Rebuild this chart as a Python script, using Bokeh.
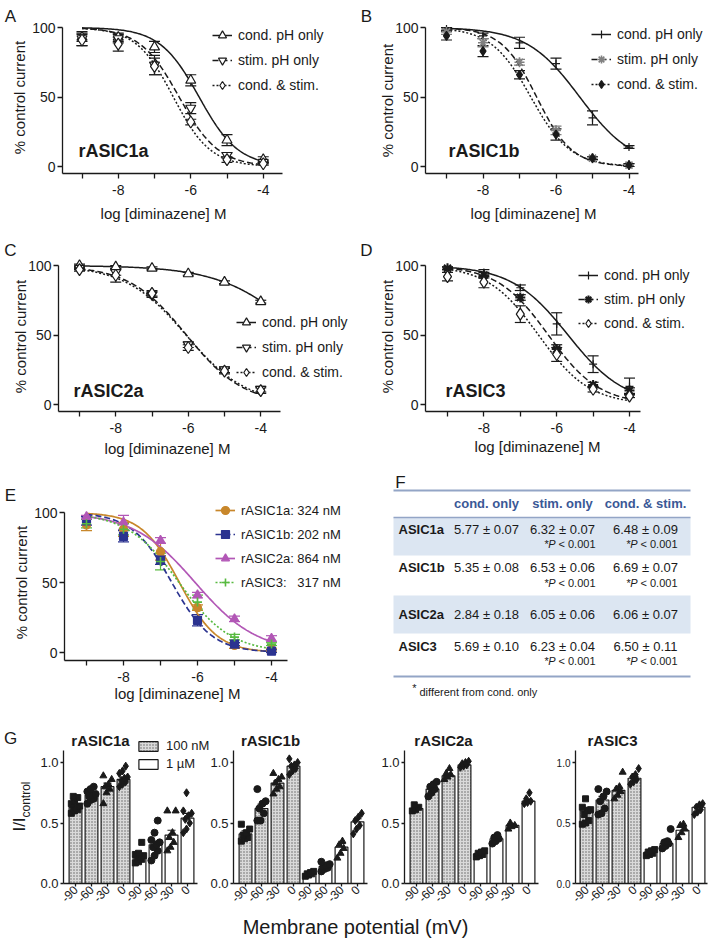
import numpy as np
from bokeh.plotting import figure
from bokeh.models import (Range1d, FixedTicker, Whisker, TeeHead, ColumnDataSource,
                          Label, Legend, LegendItem, NumeralTickFormatter)
from bokeh.layouts import row, column
from bokeh.embed import file_html
from bokeh.resources import INLINE
from bokeh.core.properties import value

FONT = "Liberation Sans"
INK = "#1a1a1a"

# ======================= DATA =======================
log_conc = [-9, -8, -7, -6, -5, -4]
x_major_ticks = [-8, -6, -4]
x_minor_ticks = [-9, -7, -5]
x_tick_labels = ["-8", "-6", "-4"]
y_pct_ticks = [0, 50, 100]
series_names = ["cond. pH only", "stim. pH only", "cond. & stim."]

# A  rASIC1a
a_cond = [93, 93, 86, 62, 19, 5]
a_cond_sem = [3, 3, 4, 4, 4, 2]
a_stim = [92, 92, 73, 42, 8, 3]
a_stim_sem = [5, 3, 7, 4, 2, 1]
a_both = [91, 88, 72, 32, 5, 2]
a_both_sem = [4, 5, 6, 2, 2, 1]
# B  rASIC1b
b_cond = [99, 94, 89, 74, 35, 14]
b_cond_sem = [1, 2, 4, 4, 5, 1]
b_stim = [97, 89, 75, 26, 6, 1]
b_stim_sem = [2, 3, 2, 3, 1, 1]
b_both = [94, 83, 66, 23, 6, 1]
b_both_sem = [3, 4, 3, 4, 1, 1]
# C  rASIC2a
c_cond = [100, 99, 98, 94, 88, 74]
c_cond_sem = [1, 1, 1, 1, 1, 1]
c_stim = [98, 95, 79, 43, 25, 11]
c_stim_sem = [1, 2, 2, 2, 2, 2]
c_both = [97, 93, 80, 41, 24, 10]
c_both_sem = [1, 5, 2, 2, 2, 2]
# D  rASIC3
d_cond = [98, 95, 84, 58, 29, 13]
d_cond_sem = [1, 2, 2, 8, 6, 6]
d_stim = [98, 93, 77, 40, 14, 10]
d_stim_sem = [1, 2, 2, 3, 2, 2]
d_both = [92, 88, 65, 36, 11, 6]
d_both_sem = [3, 4, 6, 5, 2, 1]

# fitted curves: pIC50 (table F) and Hill slope, order cond / stim / both
pic50_1a = [5.77, 6.32, 6.48]
hill_1a = [0.8, 0.8, 0.85]
pic50_1b = [5.35, 6.53, 6.69]
hill_1b = [0.6, 0.9, 0.8]
pic50_2a = [2.84, 6.05, 6.06]
hill_2a = [0.4, 0.55, 0.52]
pic50_3 = [5.69, 6.23, 6.50]
hill_3 = [0.56, 0.62, 0.62]

# E  (cond. & stim.)
e_names = ["rASIC1a: 324 nM", "rASIC1b: 202 nM", "rASIC2a: 864 nM", "rASIC3:\u00a0\u00a0 317 nM"]
e_ic50_nM = [324, 202, 864, 317]
e_hill = [0.85, 0.8, 0.52, 0.62]

# F table
tbl_headers = ["cond. only", "stim. only", "cond. & stim."]
tbl_rows = ["ASIC1a", "ASIC1b", "ASIC2a", "ASIC3"]
tbl_cond = ["5.77 \u00b1 0.07", "5.35 \u00b1 0.08", "2.84 \u00b1 0.18", "5.69 \u00b1 0.10"]
tbl_stim = ["6.32 \u00b1 0.07", "6.53 \u00b1 0.06", "6.05 \u00b1 0.06", "6.23 \u00b1 0.04"]
tbl_both = ["6.48 \u00b1 0.09", "6.69 \u00b1 0.07", "6.06 \u00b1 0.07", "6.50 \u00b1 0.11"]
tbl_sig_stim = [True, True, False, True]
tbl_sig_both = [True, True, False, True]
tbl_sig_text = "< 0.001"
tbl_footnote = "different from cond. only"

# G bars
g_volt_labels = ["-90", "-60", "-30", "0", "-90", "-60", "-30", "0"]
g_conc = ["100 nM"] * 4 + ["1 \u00b5M"] * 4
g_titles = ["rASIC1a", "rASIC1b", "rASIC2a", "rASIC3"]

g1a_mean = [0.63, 0.73, 0.80, 0.86, 0.23, 0.32, 0.40, 0.54]
g1a_sem = [0.015, 0.015, 0.03, 0.02, 0.02, 0.03, 0.04, 0.04]
g1a_pts = [[0.58, 0.60, 0.61, 0.62, 0.63, 0.64, 0.66, 0.68, 0.71, 0.72],
           [0.66, 0.69, 0.70, 0.72, 0.73, 0.74, 0.76, 0.78, 0.80],
           [0.66, 0.75, 0.78, 0.80, 0.82, 0.86, 0.89],
           [0.80, 0.82, 0.84, 0.85, 0.87, 0.88, 0.91, 0.93, 0.97],
           [0.17, 0.18, 0.20, 0.21, 0.22, 0.23, 0.24, 0.25, 0.34],
           [0.19, 0.23, 0.27, 0.30, 0.32, 0.34, 0.36, 0.42, 0.52],
           [0.27, 0.30, 0.34, 0.38, 0.42, 0.60, 0.60],
           [0.42, 0.45, 0.50, 0.53, 0.56, 0.58, 0.60, 0.75]]
g1b_mean = [0.41, 0.62, 0.83, 0.97, 0.08, 0.14, 0.30, 0.51]
g1b_sem = [0.025, 0.035, 0.02, 0.015, 0.005, 0.01, 0.03, 0.025]
g1b_pts = [[0.35, 0.37, 0.38, 0.40, 0.42, 0.45, 0.49],
           [0.52, 0.52, 0.58, 0.62, 0.66, 0.68, 0.78],
           [0.74, 0.78, 0.80, 0.83, 0.86, 0.88, 0.91],
           [0.90, 0.93, 0.95, 0.97, 0.98, 1.00, 1.03],
           [0.06, 0.07, 0.08, 0.08, 0.09, 0.10],
           [0.10, 0.12, 0.13, 0.14, 0.15, 0.16, 0.18],
           [0.21, 0.25, 0.29, 0.32, 0.35],
           [0.41, 0.45, 0.48, 0.52, 0.55, 0.58]]
g2a_mean = [0.62, 0.78, 0.89, 0.98, 0.25, 0.37, 0.48, 0.68]
g2a_sem = [0.01, 0.02, 0.015, 0.005, 0.01, 0.015, 0.01, 0.015]
g2a_pts = [[0.60, 0.61, 0.63, 0.65],
           [0.72, 0.75, 0.78, 0.80, 0.82, 0.84],
           [0.86, 0.88, 0.90, 0.91, 0.95],
           [0.96, 0.97, 0.98, 0.99, 1.00, 1.01],
           [0.22, 0.23, 0.24, 0.25, 0.26, 0.27],
           [0.33, 0.35, 0.37, 0.38, 0.40],
           [0.45, 0.47, 0.48, 0.50],
           [0.66, 0.67, 0.68, 0.70, 0.75]]
g3_mean = [0.60, 0.69, 0.77, 0.87, 0.26, 0.33, 0.44, 0.63]
g3_sem = [0.03, 0.03, 0.025, 0.015, 0.01, 0.02, 0.025, 0.015]
g3_pts = [[0.49, 0.50, 0.52, 0.57, 0.60, 0.61, 0.63, 0.70],
          [0.57, 0.58, 0.62, 0.68, 0.72, 0.76, 0.78],
          [0.70, 0.73, 0.76, 0.78, 0.80, 0.92],
          [0.82, 0.84, 0.86, 0.88, 0.90, 0.95],
          [0.23, 0.24, 0.25, 0.26, 0.27, 0.28],
          [0.29, 0.31, 0.33, 0.34, 0.35, 0.45],
          [0.38, 0.42, 0.45, 0.48, 0.49],
          [0.57, 0.59, 0.61, 0.63, 0.65, 0.66]]
g_y_ticks = [0.0, 0.5, 1.0]
g_y_top = 1.1

# ======================= LAYOUT HELPERS =======================
SPLIT = 355  # page x where the right-hand column starts


class Geo:
    """Page-pixel geometry of one figure (frame = whole figure); page px -> data units."""
    def __init__(self, fig, xref, yref):
        self.fl, self.ft, self.fw, self.fh = fig
        self.x0px, self.x0v, self.xs = xref
        self.y0px, self.y0v, self.ys = yref

    def dx(self, px):
        return self.x0v + (px - self.x0px) / self.xs

    def dy(self, py):
        return self.y0v + (self.y0px - py) / self.ys

    def figure(self):
        p = figure(width=self.fw, height=self.fh,
                   x_range=Range1d(self.dx(self.fl), self.dx(self.fl + self.fw)),
                   y_range=Range1d(self.dy(self.ft + self.fh), self.dy(self.ft)),
                   min_border=0, min_border_left=0, min_border_right=0,
                   min_border_top=0, min_border_bottom=0,
                   output_backend="svg", toolbar_location=None, title=None)
        p.grid.visible = False
        p.outline_line_color = None
        p.background_fill_color = "white"
        p.border_fill_color = "white"
        return p


def add_label(p, g, px, py, text, size, bold=False, italic=False, align="left",
              angle=0.0, color=INK):
    style = "bold" if bold else ("italic" if italic else "normal")
    p.add_layout(Label(x=g.dx(px), y=g.dy(py), text=text, text_font=FONT,
                       text_font_size=f"{size}px", text_font_style=style,
                       text_align=align, text_baseline="middle", angle=angle,
                       text_color=color))


def style_axis(ax, size):
    ax.axis_line_color = INK
    ax.axis_line_width = 1.3
    ax.major_tick_line_color = INK
    ax.major_tick_line_width = 1.3
    ax.minor_tick_line_color = INK
    ax.minor_tick_line_width = 1.3
    ax.major_tick_in = 0
    ax.minor_tick_in = 0
    ax.major_label_text_font = FONT
    ax.major_label_text_font_size = f"{size}px"
    ax.major_label_text_color = INK


def add_legend(p, g, items, left_px, top_px, glyph_w, glyph_h, label_h, spacing, font_px, standoff):
    n = len(items)
    height = n * max(glyph_h, label_h) + (n - 1) * spacing
    leg = Legend(items=items, location=(left_px - g.fl, g.ft + g.fh - (top_px + height)),
                 glyph_width=glyph_w, glyph_height=glyph_h, label_height=label_h,
                 spacing=spacing, padding=0, margin=0, label_standoff=standoff,
                 border_line_color=None, background_fill_alpha=0,
                 label_text_font=FONT, label_text_font_size=f"{font_px}px",
                 label_text_color=INK)
    p.add_layout(leg)


def hill(xs, log_ic50, n):
    return 100.0 / (1.0 + 10.0 ** ((xs - log_ic50) * n))


def curve_panel(g, axes_px, series, fits, styles, names, leg, letter, title, texts):
    yax_px, xax_px, xend_px = axes_px
    p = g.figure()
    style_axis(p.xaxis[0], 14)
    style_axis(p.yaxis[0], 14)
    p.xaxis.fixed_location = g.dy(xax_px)
    p.yaxis.fixed_location = g.dx(yax_px)
    p.xaxis.ticker = FixedTicker(ticks=x_major_ticks, minor_ticks=x_minor_ticks)
    p.xaxis.major_label_overrides = dict(zip(x_major_ticks, x_tick_labels))
    p.xaxis.major_tick_out = 5
    p.xaxis.minor_tick_out = 5
    p.xaxis.major_label_standoff = 6
    p.xaxis.bounds = (g.dx(yax_px), g.dx(xend_px))
    p.yaxis.ticker = FixedTicker(ticks=y_pct_ticks)
    p.yaxis.major_tick_out = 5
    p.yaxis.major_label_standoff = 2
    p.yaxis.bounds = (g.dy(xax_px), max(y_pct_ticks))

    xs = np.linspace(log_conc[0], log_conc[-1], 151)
    line_r, mark_r = [], []
    for (mean, sem), st in zip(series, styles):
        src = ColumnDataSource(dict(x=log_conc,
                                    lo=[m - s for m, s in zip(mean, sem)],
                                    hi=[m + s for m, s in zip(mean, sem)]))
        ec = st.get("ecolor", st["color"])
        p.add_layout(Whisker(source=src, base="x", upper="hi", lower="lo", level="underlay",
                             line_color=ec, line_width=1.2,
                             upper_head=TeeHead(size=11, line_color=ec, line_width=1.2),
                             lower_head=TeeHead(size=11, line_color=ec, line_width=1.2)))
    for (lic, n), st in zip(fits, styles):
        line_r.append(p.line(xs, hill(xs, lic, n), line_color=st.get("lcolor", st["color"]),
                             line_width=st.get("lw", 1.5), line_dash=st["dash"]))
    for (mean, sem), st in zip(series, styles):
        mark_r.append(p.scatter(log_conc, mean, marker=st["marker"], size=st["size"],
                                fill_color=st["fill"], line_color=st["color"],
                                line_width=st.get("mlw", 1.2)))
    items = [LegendItem(label=nm, renderers=[lr, mr]) for nm, lr, mr in zip(names, line_r, mark_r)]
    add_legend(p, g, items, *leg)

    add_label(p, g, letter[0], letter[1], letter[2], 17, align="center")
    if title:
        add_label(p, g, title[0], title[1], title[2], 18, bold=True)
    add_label(p, g, texts[0][0], texts[0][1], "log [diminazene] M", 15, align="center")
    add_label(p, g, texts[1][0], texts[1][1], "% control current", 15, align="center",
              angle=np.pi / 2)
    return p


open_style = [
    dict(marker="triangle", size=10, fill="white", color=INK, dash="solid"),
    dict(marker="inverted_triangle", size=10, fill="white", color=INK, dash="6 3"),
    dict(marker="diamond", size=12, fill="white", color=INK, dash="2 2"),
]
b_style = [
    dict(marker="cross", size=8, fill=INK, color=INK, dash="solid"),
    dict(marker="asterisk", size=10, fill="#808080", color="#808080", lcolor=INK, dash="6 3", mlw=1.6),
    dict(marker="diamond", size=9, fill=INK, color=INK, dash="2 2"),
]
d_style = [
    dict(marker="cross", size=8, fill=INK, color=INK, dash="solid"),
    dict(marker="asterisk", size=10, fill=INK, color=INK, dash="6 3", mlw=2.0),
    dict(marker="diamond", size=12, fill="white", color=INK, dash="2 2"),
]
e_colors = ["#C8872B", "#2B3390", "#B257B6", "#58BA40"]
e_style = [
    dict(marker="circle", size=8, fill=e_colors[0], color=e_colors[0], dash="solid", lw=1.7),
    dict(marker="square", size=8, fill=e_colors[1], color=e_colors[1], dash="6 3", lw=1.7),
    dict(marker="triangle", size=9, fill=e_colors[2], color=e_colors[2], dash="solid", lw=1.7),
    dict(marker="cross", size=9, fill=e_colors[3], color=e_colors[3], dash="2 2", lw=1.7, mlw=1.6),
]


def fits_from(pics, hills):
    return [(-pc, h) for pc, h in zip(pics, hills)]


# ---- A ----
gA = Geo((0, 0, SPLIT, 232), (81.5, -9, 36.25), (166, 0, 1.39))
pA = curve_panel(gA, (62, 173, 282),
                 [(a_cond, a_cond_sem), (a_stim, a_stim_sem), (a_both, a_both_sem)],
                 fits_from(pic50_1a, hill_1a), open_style, series_names,
                 (212, 25, 20, 20, 20, 5, 14, 6), (10, 16, "A"), (78, 150, "rASIC1a"),
                 [(163, 213), (19, 97)])
# ---- B ----
gB = Geo((SPLIT, 0, 709 - SPLIT, 232), (446, -9, 36.5), (166, 0, 1.39))
pB = curve_panel(gB, (425, 173, 638),
                 [(b_cond, b_cond_sem), (b_stim, b_stim_sem), (b_both, b_both_sem)],
                 fits_from(pic50_1b, hill_1b), b_style, series_names,
                 (591, 24, 20, 20, 20, 5, 14, 6), (366, 16, "B"), (448, 150, "rASIC1b"),
                 [(533, 213), (387, 100)])
# ---- C ----
gC = Geo((0, 232, SPLIT, 238), (79, -9, 36.25), (404, 0, 1.39))
pC = curve_panel(gC, (58, 411, 280),
                 [(c_cond, c_cond_sem), (c_stim, c_stim_sem), (c_both, c_both_sem)],
                 fits_from(pic50_2a, hill_2a), open_style, series_names,
                 (236, 312, 20, 20, 20, 5, 14, 6), (10, 250, "C"), (73, 390, "rASIC2a"),
                 [(167, 448), (20, 336)])
# ---- D ----
gD = Geo((SPLIT, 232, 709 - SPLIT, 238), (447, -9, 36.4), (404, 0, 1.39))
pD = curve_panel(gD, (425, 411, 640),
                 [(d_cond, d_cond_sem), (d_stim, d_stim_sem), (d_both, d_both_sem)],
                 fits_from(pic50_3, hill_3), d_style, series_names,
                 (578, 265, 20, 20, 20, 4, 14, 6), (366, 250, "D"), (445, 390, "rASIC3"),
                 [(537, 446), (387, 336)])
# ---- E ----
gE = Geo((0, 470, SPLIT, 242), (86, -9, 37), (652, 0, 1.4))
e_fits = [(float(np.log10(v * 1e-9)), h) for v, h in zip(e_ic50_nM, e_hill)]
pE = curve_panel(gE, (64, 660, 287),
                 [(a_both, a_both_sem), (b_both, b_both_sem), (c_both, c_both_sem), (d_both, d_both_sem)],
                 e_fits, e_style, e_names,
                 (215, 500, 20, 20, 20, 4, 13, 6), (10, 495, "E"), None,
                 [(177, 693), (21, 582)])

# ---- F (table) : data units == page pixels ----
pF = figure(width=709 - SPLIT, height=242, x_range=Range1d(SPLIT, 709), y_range=Range1d(712, 470),
            x_axis_type=None, y_axis_type=None, min_border=0,
            min_border_left=0, min_border_right=0, min_border_top=0, min_border_bottom=0,
            output_backend="svg", toolbar_location=None, title=None)
pF.outline_line_color = None
TL, TR = 393, 690
row_top = [517, 555, 595, 633]
row_bot = [555, 595, 633, 676]
val_y = [529, 567, 614, 646]
p_y = [543, 582, 0, 660]
col_x = [486, 562, 645]
sig_x = [568, 650]
shade = [i for i in range(len(tbl_rows)) if i % 2 == 0]
pF.quad(left=[TL] * len(shade), right=[TR] * len(shade),
        top=[row_top[i] for i in shade], bottom=[row_bot[i] for i in shade],
        fill_color="#DCE6F2", line_color=None)
pF.segment(x0=[TL] * 3, x1=[TR] * 3, y0=[490, 517, 676], y1=[490, 517, 676],
           line_color="#93A5C6", line_width=[2.2, 1.6, 2.2])
pF.text(x=col_x, y=[503] * 3, text=tbl_headers, text_align="center", text_baseline="middle",
        text_font=value(FONT), text_font_size="13px", text_font_style="bold", text_color="#3A5896")
pF.text(x=[398] * 4, y=val_y, text=tbl_rows, text_align="left", text_baseline="middle",
        text_font=value(FONT), text_font_size="13px", text_font_style="bold", text_color=INK)
for cx, col in zip(col_x, [tbl_cond, tbl_stim, tbl_both]):
    pF.text(x=[cx] * 4, y=val_y, text=col, text_align="center", text_baseline="middle",
            text_font=value(FONT), text_font_size="13px", text_color=INK)
for sx, sig in zip(sig_x, [tbl_sig_stim, tbl_sig_both]):
    ys = [p_y[i] for i, s in enumerate(sig) if s]
    pF.text(x=[sx - 13] * len(ys), y=ys, text=["*P"] * len(ys), text_align="right",
            text_baseline="middle", text_font=value(FONT), text_font_size="11px",
            text_font_style="italic", text_color=INK)
    pF.text(x=[sx - 10] * len(ys), y=ys, text=[tbl_sig_text] * len(ys), text_align="left",
            text_baseline="middle", text_font=value(FONT), text_font_size="11px", text_color=INK)
pF.add_layout(Label(x=414, y=687, text="*", text_font=FONT, text_font_size="11px",
                    text_align="center", text_baseline="middle", text_color=INK))
pF.add_layout(Label(x=419, y=691, text=tbl_footnote, text_font=FONT, text_font_size="11px",
                    text_align="left", text_baseline="middle", text_color=INK))
pF.add_layout(Label(x=400, y=482, text="F", text_font=FONT, text_font_size="17px",
                    text_align="center", text_baseline="middle", text_color=INK))

# ---- G (bar panels) ----
marker_of = {"-90": "square", "-60": "circle", "-30": "triangle", "0": "diamond"}
msize_of = {"square": 6, "circle": 7, "triangle": 7, "diamond": 8}


def bar_panel(g, axes_px, title, title_px, means, sems, pts, tick_px, first=False):
    yax_px, xend_px = axes_px
    p = g.figure()
    style_axis(p.xaxis[0], 12)
    style_axis(p.yaxis[0], tick_px)
    xs = list(range(len(means)))
    p.xaxis.fixed_location = 0
    p.yaxis.fixed_location = g.dx(yax_px)
    p.xaxis.bounds = (g.dx(yax_px), g.dx(xend_px))
    p.yaxis.bounds = (0, g_y_top)
    p.xaxis.ticker = FixedTicker(ticks=xs)
    p.xaxis.major_label_overrides = dict(zip(xs, g_volt_labels))
    p.xaxis.major_label_orientation = np.pi / 4
    p.xaxis.major_tick_out = 3
    p.xaxis.major_label_standoff = 1
    p.yaxis.ticker = FixedTicker(ticks=g_y_ticks)
    p.yaxis.formatter = NumeralTickFormatter(format="0.0")
    p.yaxis.major_tick_out = 3
    p.yaxis.major_label_standoff = 2

    lo_idx = [i for i, c in enumerate(g_conc) if c == g_conc[0]]
    hi_idx = [i for i, c in enumerate(g_conc) if c != g_conc[0]]
    r100 = p.vbar(x=[xs[i] for i in lo_idx], top=[means[i] for i in lo_idx], bottom=0, width=0.8,
                  fill_color="#DADADA", hatch_pattern="dot", hatch_color="#606060",
                  hatch_scale=3.0, hatch_weight=1.0, line_color=INK, line_width=1.2)
    r1u = p.vbar(x=[xs[i] for i in hi_idx], top=[means[i] for i in hi_idx], bottom=0, width=0.8,
                 fill_color="white", line_color=INK, line_width=1.2)
    px_, py_, pm_, ps_ = [], [], [], []
    for i, vals in enumerate(pts):
        mk = marker_of[g_volt_labels[i]]
        for k, v in enumerate(vals):
            off = ((k % 3) - 1) * 0.2 + (0.06 if (k // 3) % 2 else -0.06)
            px_.append(xs[i] + off)
            py_.append(v)
            pm_.append(mk)
            ps_.append(msize_of[mk])
    p.scatter(x="x", y="y", marker="m", size="s", fill_color=INK, line_color=INK,
              source=ColumnDataSource(dict(x=px_, y=py_, m=pm_, s=ps_)))
    src = ColumnDataSource(dict(x=xs, lo=[m - s for m, s in zip(means, sems)],
                                hi=[m + s for m, s in zip(means, sems)]))
    p.add_layout(Whisker(source=src, base="x", upper="hi", lower="lo", line_color=INK, line_width=1.2,
                         upper_head=TeeHead(size=8, line_color=INK, line_width=1.2),
                         lower_head=TeeHead(size=8, line_color=INK, line_width=1.2)))
    add_label(p, g, title_px, 740, title, 15, bold=True, align="center")
    if first:
        items = [LegendItem(label=g_conc[0], renderers=[r100]),
                 LegendItem(label=g_conc[-1], renderers=[r1u])]
        add_legend(p, g, items, 136, 737, 24, 12, 17, 1, 13, 6)
        add_label(p, g, 10, 738, "G", 17, align="center")
        add_label(p, g, 19, 824, "I/I", 17, align="center", angle=np.pi / 2)
        add_label(p, g, 25, 799, "control", 12, align="center", angle=np.pi / 2)
    return p


gy = (883, 0, 121)
gG1 = Geo((0, 712, 209, 198), (75, 0, 16), gy)
gG2 = Geo((209, 712, 167, 198), (245, 0, 16), gy)
gG3 = Geo((376, 712, 166, 198), (416, 0, 16), gy)
gG4 = Geo((542, 712, 167, 198), (586, 0, 16), gy)
pG1 = bar_panel(gG1, (63, 197), g_titles[0], 100, g1a_mean, g1a_sem, g1a_pts, 13, first=True)
pG2 = bar_panel(gG2, (233, 367), g_titles[1], 270, g1b_mean, g1b_sem, g1b_pts, 13)
pG3 = bar_panel(gG3, (404, 538), g_titles[2], 443, g2a_mean, g2a_sem, g2a_pts, 13)
pG4 = bar_panel(gG4, (575, 707), g_titles[3], 612, g3_mean, g3_sem, g3_pts, 10)

pM = figure(width=709, height=30, x_range=Range1d(0, 709), y_range=Range1d(940, 910),
            x_axis_type=None, y_axis_type=None, min_border=0,
            min_border_left=0, min_border_right=0, min_border_top=0, min_border_bottom=0,
            output_backend="svg", toolbar_location=None, title=None)
pM.outline_line_color = None
pM.add_layout(Label(x=355, y=926, text="Membrane potential (mV)", text_font=FONT,
                    text_font_size="20px", text_align="center", text_baseline="middle",
                    text_color=INK))

layout = column(row(pA, pB), row(pC, pD), row(pE, pF), row(pG1, pG2, pG3, pG4), pM)
open("out.html", "w").write(file_html(layout, INLINE))
